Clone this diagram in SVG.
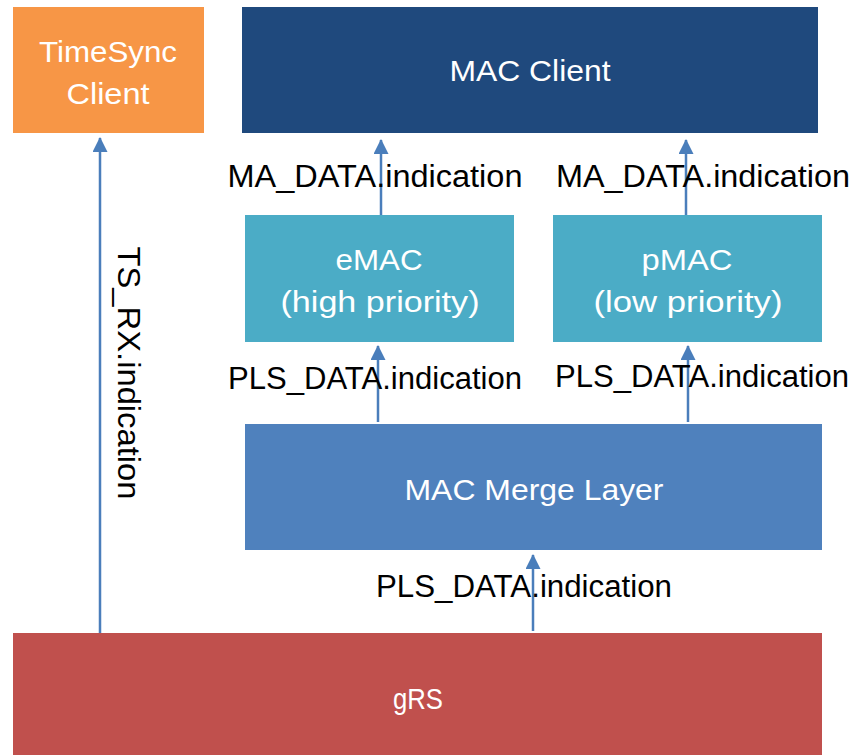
<svg xmlns="http://www.w3.org/2000/svg" width="855" height="755" viewBox="0 0 855 755">
<defs>
<style>
.lbl{font-family:"Liberation Sans",Arial,sans-serif;font-size:30px;fill:#fff;text-anchor:middle}
.sig{font-family:"Liberation Sans",Arial,sans-serif;font-size:31px;fill:#000;text-anchor:middle}
.conn{stroke:#4A7EBB;stroke-width:2.5;fill:none;marker-end:url(#ah)}
</style>
<marker id="ah" markerWidth="6" markerHeight="6" refX="5.6" refY="3" orient="auto" markerUnits="strokeWidth">
<path d="M0,0 L6,3 L0,6 Z" fill="#4A7EBB"/>
</marker>
</defs>
<rect width="855" height="755" fill="#fff"/>
<g id="timesync">
<rect x="13" y="7" width="191" height="126" fill="#F79646"/>
<text class="lbl" x="108" y="62" textLength="138" lengthAdjust="spacingAndGlyphs">TimeSync</text>
<text class="lbl" x="108" y="104" textLength="83" lengthAdjust="spacingAndGlyphs">Client</text>
</g>
<g id="macclient">
<rect x="242" y="7" width="576" height="126" fill="#1F497D"/>
<text class="lbl" x="530" y="81" textLength="161" lengthAdjust="spacingAndGlyphs">MAC Client</text>
</g>
<g id="emac">
<rect x="245" y="215" width="269" height="127" fill="#4BACC6"/>
<text class="lbl" x="379" y="270" textLength="87" lengthAdjust="spacingAndGlyphs">eMAC</text>
<text class="lbl" x="380" y="312" textLength="199" lengthAdjust="spacingAndGlyphs">(high priority)</text>
</g>
<g id="pmac">
<rect x="553" y="215" width="269" height="127" fill="#4BACC6"/>
<text class="lbl" x="687" y="270" textLength="91" lengthAdjust="spacingAndGlyphs">pMAC</text>
<text class="lbl" x="688" y="312" textLength="189" lengthAdjust="spacingAndGlyphs">(low priority)</text>
</g>
<g id="merge">
<rect x="245" y="424" width="577" height="126" fill="#4F81BD"/>
<text class="lbl" x="534" y="500" textLength="259" lengthAdjust="spacingAndGlyphs">MAC Merge Layer</text>
</g>
<g id="grs">
<rect x="13" y="633" width="809" height="122" fill="#C0504D"/>
<text class="lbl" x="418" y="709" textLength="50" lengthAdjust="spacingAndGlyphs">gRS</text>
</g>
<g id="connectors">
<line class="conn" x1="100" y1="633" x2="100" y2="138"/>
<line class="conn" x1="381" y1="215" x2="381" y2="140"/>
<line class="conn" x1="686" y1="215" x2="686" y2="140"/>
<line class="conn" x1="378" y1="422" x2="378" y2="346"/>
<line class="conn" x1="688" y1="422" x2="688" y2="346"/>
<line class="conn" x1="533" y1="631" x2="533" y2="555"/>
</g>
<g id="labels">
<text class="sig" x="375" y="187" textLength="295" lengthAdjust="spacingAndGlyphs">MA_DATA.indication</text>
<text class="sig" x="703" y="187" textLength="294" lengthAdjust="spacingAndGlyphs">MA_DATA.indication</text>
<text class="sig" x="375" y="389" textLength="294" lengthAdjust="spacingAndGlyphs">PLS_DATA.indication</text>
<text class="sig" x="702" y="387" textLength="294" lengthAdjust="spacingAndGlyphs">PLS_DATA.indication</text>
<text class="sig" x="524" y="597" textLength="296" lengthAdjust="spacingAndGlyphs">PLS_DATA.indication</text>
<text class="sig" transform="translate(118,373) rotate(90)" x="0" y="0" textLength="253" lengthAdjust="spacingAndGlyphs">TS_RX.indication</text>
</g>
</svg>
